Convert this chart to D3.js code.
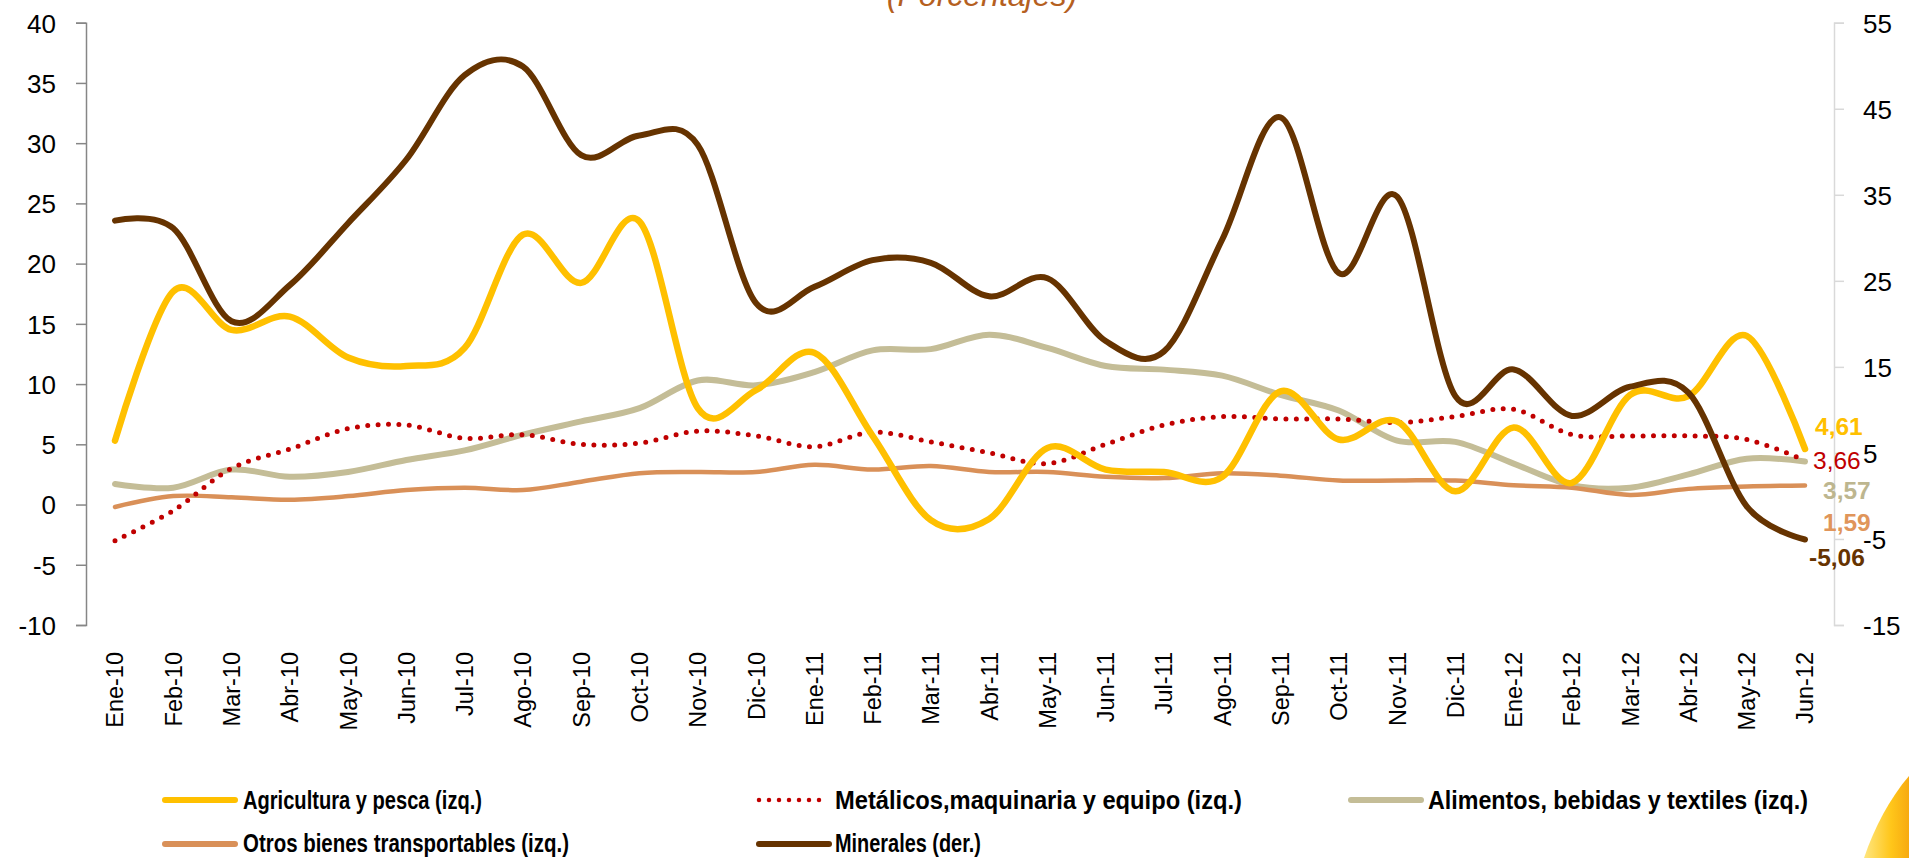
<!DOCTYPE html>
<html>
<head>
<meta charset="utf-8">
<script src="https://cdn.jsdelivr.net/npm/d3@7/dist/d3.min.js"></script>
<style>
  html, body { margin: 0; padding: 0; background: #ffffff; }
  svg { display: block; }
  text { font-family: "Liberation Sans", Arial, sans-serif; }
</style>
</head>
<body>
<svg id="chart" width="1909" height="858"></svg>
<script>
// Months shown on the category axis
const months = ["Ene-10","Feb-10","Mar-10","Abr-10","May-10","Jun-10","Jul-10","Ago-10","Sep-10","Oct-10","Nov-10","Dic-10",
                "Ene-11","Feb-11","Mar-11","Abr-11","May-11","Jun-11","Jul-11","Ago-11","Sep-11","Oct-11","Nov-11","Dic-11",
                "Ene-12","Feb-12","Mar-12","Abr-12","May-12","Jun-12"];

// Year-on-year variation (%), left axis series
const agricultura = [5.3, 17.7, 14.5, 15.6, 12.2, 11.5, 13.0, 22.4, 18.4, 23.5, 8.0, 9.5, 12.6, 5.7, -1.3, -1.2, 4.7, 2.9, 2.7, 2.3, 9.4, 5.4, 6.9, 1.1, 6.4, 1.8, 9.1, 9.0, 14.0, 4.61];
const metalicos   = [-3.0, -0.5, 3.0, 4.6, 6.3, 6.6, 5.5, 5.8, 5.0, 5.1, 6.1, 5.7, 4.8, 6.0, 5.2, 4.3, 3.4, 5.0, 6.6, 7.3, 7.1, 7.1, 6.8, 7.3, 7.9, 5.8, 5.7, 5.7, 5.4, 3.66];
const alimentos   = [1.7, 1.4, 2.9, 2.3, 2.7, 3.7, 4.5, 5.8, 6.9, 8.0, 10.3, 9.9, 11.0, 12.8, 12.9, 14.1, 13.0, 11.5, 11.2, 10.7, 9.1, 7.8, 5.3, 5.2, 3.4, 1.6, 1.4, 2.5, 3.8, 3.57];
const otros       = [-0.2, 0.7, 0.6, 0.4, 0.7, 1.2, 1.4, 1.2, 1.9, 2.6, 2.7, 2.7, 3.3, 2.9, 3.2, 2.7, 2.7, 2.3, 2.2, 2.6, 2.4, 2.0, 2.0, 2.0, 1.6, 1.4, 0.8, 1.3, 1.5, 1.59];
// Right axis series
const minerales   = [32.0, 31.1, 20.3, 24.5, 31.7, 39.1, 48.9, 49.9, 39.6, 41.9, 40.8, 22.4, 24.3, 27.4, 27.1, 23.2, 25.3, 18.0, 16.8, 29.8, 44.0, 25.9, 34.8, 11.6, 14.7, 9.3, 12.7, 12.0, -1.2, -5.06];

// Axis ticks
const leftTicks  = [-10, -5, 0, 5, 10, 15, 20, 25, 30, 35, 40];
const rightTicks = [-15, -5, 5, 15, 25, 35, 45, 55];

const svg = d3.select("#chart");

const x  = d3.scalePoint().domain(months).range([115, 1805]);
const yL = d3.scaleLinear().domain([-10, 40]).range([625, 22.7]);
const yR = d3.scaleLinear().domain([-15, 55]).range([625, 22.7]);

// Plain hyphen for negative numbers, as in the source spreadsheet
const intFmt = d => String(d);

// Title (partially above the top edge)
svg.append("text")
  .attr("x", 982).attr("y", 6)
  .attr("text-anchor", "middle")
  .attr("font-size", 32).attr("font-style", "italic")
  .attr("fill", "#b5601f")
  .text("(Porcentajes)");

// Left axis
const axL = svg.append("g").attr("transform", "translate(86,0)")
  .call(d3.axisLeft(yL).tickValues(leftTicks).tickSize(10).tickPadding(20).tickFormat(intFmt));
axL.select(".domain").attr("stroke", "#868686").attr("stroke-width", 1.5);
axL.selectAll(".tick line").attr("stroke", "#868686").attr("stroke-width", 1.5);
axL.selectAll(".tick text").attr("font-size", 26).attr("fill", "#000")
  .attr("font-family", "'Liberation Sans', Arial, sans-serif").attr("dy", "0.36em");

// Right axis
const axR = svg.append("g").attr("transform", "translate(1834,0)")
  .call(d3.axisRight(yR).tickValues(rightTicks).tickSize(10).tickPadding(19).tickFormat(intFmt));
axR.select(".domain").attr("stroke", "#d9d9d9").attr("stroke-width", 1.5);
axR.selectAll(".tick line").attr("stroke", "#d9d9d9").attr("stroke-width", 1.5);
axR.selectAll(".tick text").attr("font-size", 26).attr("fill", "#000")
  .attr("font-family", "'Liberation Sans', Arial, sans-serif").attr("dy", "0.36em");

// Category labels, rotated
svg.append("g").selectAll("text")
  .data(months).join("text")
  .attr("transform", d => `translate(${x(d)},652) rotate(-90)`)
  .attr("text-anchor", "end")
  .attr("dy", "0.36em")
  .attr("font-family", "'DejaVu Sans', Verdana, sans-serif")
  .attr("font-size", 23.5)
  .attr("fill", "#000")
  .text(d => d);

const smooth = d3.curveCardinal.tension(0);
const series = [
  {name: "Alimentos, bebidas y textiles (izq.)", values: alimentos, y: yL, color: "#c4bd97", width: 6},
  {name: "Otros bienes transportables (izq.)", values: otros, y: yL, color: "#d99058", width: 4.5},
  {name: "Metálicos,maquinaria y equipo (izq.)", values: metalicos, y: yL, color: "#c00000", width: 5, dotted: true},
  {name: "Agricultura y pesca (izq.)", values: agricultura, y: yL, color: "#ffc000", width: 6.5},
  {name: "Minerales (der.)", values: minerales, y: yR, color: "#663300", width: 6}
];

const plot = svg.append("g");
series.forEach(s => {
  const line = d3.line().x((d, i) => x(months[i])).y(d => s.y(d)).curve(smooth);
  plot.append("path")
    .datum(s.values)
    .attr("d", line)
    .attr("fill", "none")
    .attr("stroke", s.color)
    .attr("stroke-width", s.width)
    .attr("stroke-linecap", "round")
    .attr("stroke-linejoin", "round")
    .attr("stroke-dasharray", s.dotted ? "0,10.4" : null);
});

// Last-value labels
const fmt = v => v.toFixed(2).replace(".", ",");
const endLabels = [
  {values: agricultura, y: yL, color: "#ffc000", bold: true,  dx: 10, dy: -14},
  {values: metalicos,   y: yL, color: "#c00000", bold: false, dx: 8,  dy: 9},
  {values: alimentos,   y: yL, color: "#bdb68f", bold: true,  dx: 18, dy: 37},
  {values: otros,       y: yL, color: "#e0955a", bold: true,  dx: 18, dy: 46},
  {values: minerales,   y: yR, color: "#663300", bold: true,  dx: 4,  dy: 27}
];
endLabels.forEach(l => {
  const last = l.values[l.values.length - 1];
  svg.append("text")
    .attr("x", x(months[months.length - 1]) + l.dx)
    .attr("y", l.y(last) + l.dy)
    .attr("font-size", 24.5)
    .attr("font-weight", l.bold ? "bold" : "normal")
    .attr("fill", l.color)
    .text(fmt(last));
});

// Legend
const legendItems = [
  {s: series[3], lx: 165,  tx: 243,  y: 800, ty: 809, w: 239},
  {s: series[2], lx: 759,  tx: 835,  y: 800, ty: 809, w: 407},
  {s: series[0], lx: 1351, tx: 1428, y: 800, ty: 809, w: 380},
  {s: series[1], lx: 165,  tx: 243,  y: 844, ty: 852, w: 326},
  {s: series[4], lx: 759,  tx: 835,  y: 844, ty: 852, w: 146}
];
const lg = svg.append("g");
legendItems.forEach(it => {
  lg.append("line")
    .attr("x1", it.lx).attr("x2", it.lx + 70)
    .attr("y1", it.y).attr("y2", it.y)
    .attr("stroke", it.s.color)
    .attr("stroke-width", it.s.dotted ? 4.5 : 6)
    .attr("stroke-linecap", "round")
    .attr("stroke-dasharray", it.s.dotted ? "0,10" : null);
  lg.append("text")
    .attr("x", it.tx).attr("y", it.ty)
    .attr("font-size", 25).attr("font-weight", "bold").attr("fill", "#000")
    .attr("textLength", it.w).attr("lengthAdjust", "spacingAndGlyphs")
    .text(it.s.name);
});

// Decorative swoosh in the lower right corner
const defs = svg.append("defs");
const grad = defs.append("linearGradient").attr("id", "swoosh")
  .attr("x1", "0%").attr("y1", "0%").attr("x2", "100%").attr("y2", "0%");
grad.append("stop").attr("offset", "0%").attr("stop-color", "#ffe680");
grad.append("stop").attr("offset", "60%").attr("stop-color", "#ffc61a");
grad.append("stop").attr("offset", "100%").attr("stop-color", "#f7aa10");
svg.append("path")
  .attr("d", "M1864,858 C1874,828 1890,798 1909,776 L1909,858 Z")
  .attr("fill", "url(#swoosh)");
</script>
</body>
</html>
